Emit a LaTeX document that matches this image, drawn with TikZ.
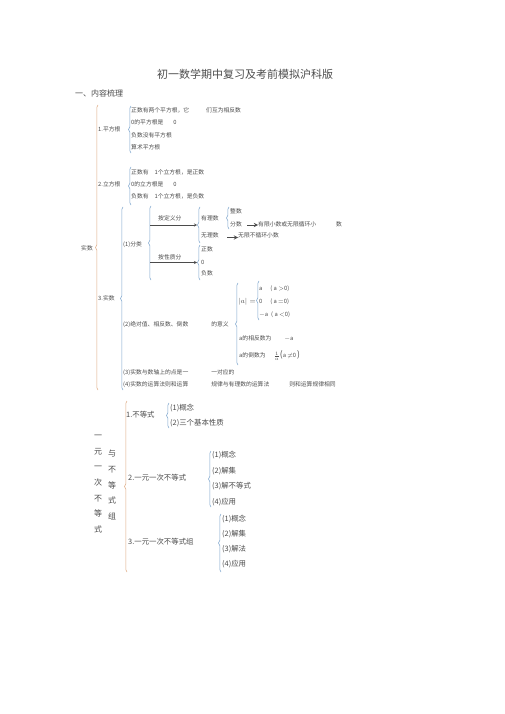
\documentclass[tikz,border=0pt]{standalone}
\usepackage{fontspec}
\newfontfamily\cjk{Noto Sans CJK SC}
\usetikzlibrary{positioning,decorations.pathreplacing}
\definecolor{inkgray}{RGB}{75,75,75}
\definecolor{braceorange}{RGB}{222,170,130}
\definecolor{braceblue}{RGB}{125,165,205}
\tikzstyle{heading} = [anchor=west, inner sep=0pt, text=inkgray, font=\cjk\fontsize{8}{9}\selectfont]
\tikzstyle{leaf} = [anchor=west, inner sep=0pt, text height=.85em, text depth=.15em, text=inkgray, font=\cjk\fontsize{5.8}{7}\selectfont]
\tikzstyle{bigleaf} = [leaf, font=\cjk\fontsize{7.4}{9}\selectfont]
\tikzstyle{vtext} = [inner sep=0pt, align=center, text=inkgray, font=\cjk\fontsize{8}{15.7}\selectfont]
\tikzstyle{lbrace} = [decorate, decoration={brace, amplitude=2.5pt}, draw=braceblue, line width=0.5pt]
\tikzstyle{bigbrace} = [lbrace, draw=braceorange]
\tikzstyle{arrow} = [thin, draw=inkgray, ->, >=stealth]
\tikzstyle{shortarrow} = [line width=0.9pt, draw=inkgray, ->, >=stealth]
\newcommand{\bigparen}[1]{{\fontsize{8.5}{9}\selectfont #1}}

\begin{document}
\begin{tikzpicture}[x=1pt, y=-1pt]
  \useasboundingbox (0,0) rectangle (505,714);
  \node (title) [inner sep=0pt, text=inkgray, font=\cjk\fontsize{11}{13}\selectfont] at (245,74) {初一数学期中复习及考前模拟沪科版};
  \node (outline) [heading] at (75,93) {一、内容梳理};

  % 实数
  \draw [bigbrace] (98,390) -- (98,105);
  \node (real) [leaf, anchor=east] at (93,247) {实数};

  % 1. 平方根
  \node (sqrt) [leaf] at (98,128) {1.平方根};
  \draw [lbrace] (131,153) -- (131,106);
  \node (sq1) [leaf] at (131,109) {正数有两个平方根，它\hspace{17pt}们互为相反数};
  \node (sq2) [leaf, below=12.5pt of sq1.west, anchor=west] {0的平方根是\hspace{10pt}0};
  \node (sq3) [leaf, below=12.5pt of sq2.west, anchor=west] {负数没有平方根};
  \node (sq4) [leaf, below=12.5pt of sq3.west, anchor=west] {算术平方根};

  % 2. 立方根
  \node (cbrt) [leaf] at (98,183) {2.立方根};
  \draw [lbrace] (131,205) -- (131,167);
  \node (cb1) [leaf] at (131,171) {正数有\hspace{6pt}1个立方根，是正数};
  \node (cb2) [leaf, below=12pt of cb1.west, anchor=west] {0的立方根是\hspace{10pt}0};
  \node (cb3) [leaf, below=12pt of cb2.west, anchor=west] {负数有\hspace{6pt}1个立方根，是负数};

  % 3. 实数
  \node (realsec) [leaf] at (98,297) {3.实数};
  \draw [lbrace] (123,390) -- (123,207);

  % (1) 分类
  \node (classify) [leaf] at (123,243) {(1)分类};
  \draw [lbrace] (151,280) -- (151,206);
  \node (bydef) [leaf] at (158,217) {按定义分};
  \node (byprop) [leaf] at (158,256) {按性质分};
  \coordinate (defFrom) at (150,225);
  \coordinate (defTo) at (197,225);
  \coordinate (propFrom) at (150,262.5);
  \coordinate (propTo) at (197,262.5);
  \draw [arrow] (defFrom) -- (defTo);
  \draw [arrow] (propFrom) -- (propTo);

  \draw [lbrace] (200,243) -- (200,207);
  \node (rational) [leaf] at (201,217) {有理数};
  \node (irrational) [leaf] at (201,234) {无理数};
  \draw [lbrace] (200,280) -- (200,245);
  \node (positive) [leaf] at (201,248) {正数};
  \node (zero) [leaf, below=12.5pt of positive.west, anchor=west] {0};
  \node (negative) [leaf, below=11.5pt of zero.west, anchor=west] {负数};

  \draw [lbrace] (229,229) -- (229,207);
  \node (integer) [leaf] at (230,210) {整数};
  \node (fraction) [leaf] at (230,223) {分数};
  \node (finite) [leaf] at (258,223) {有限小数或无限循环小\hspace{20pt}数};
  \coordinate (finFrom) at (247,225);
  \draw [shortarrow] (finFrom) -- (finFrom -| finite.west);
  \node (nonrep) [leaf] at (238,234) {无限不循环小数};
  \coordinate (nonFrom) at (227,237.5);
  \draw [shortarrow] (nonFrom) -- (nonFrom -| nonrep.west);

  % (2) 绝对值、相反数、倒数
  \node (meaning) [leaf] at (123,323) {(2)绝对值、相反数、倒数\hspace{23pt}的意义};
  \draw [lbrace] (238,365) -- (238,283);
  \node (absval) [leaf, font=\cjk\fontsize{7}{8}\selectfont] at (238,300) {$|a|=$};
  \draw [lbrace] (259,320) -- (259,281);
  \node (casepos) [leaf] at (259,287) {a\hspace{8pt}( a $>$0)};
  \node (casezero) [leaf] at (259,300) {0\hspace{8pt}( a $=$0)};
  \node (caseneg) [leaf] at (259,313) {$-$a\hspace{3pt}( a $<$0)};
  \node (opposite) [leaf] at (239,337) {a的相反数为\hspace{13pt}$-$a};
  \node (reciprocal) [leaf] at (239,354) {a的倒数为\hspace{8pt}$\frac{1}{a}$\bigparen{(}a $\neq$0\,\bigparen{)}};

  % (3) (4)
  \node (oneone) [leaf] at (123,371) {(3)实数与数轴上的点是一\hspace{23pt}一对应的};
  \node (ops) [leaf] at (123,383) {(4)实数的运算法则和运算\hspace{23pt}规律与有理数的运算法\hspace{20pt}则和运算规律相同};

  % 一元一次不等式与不等式组
  \node (vleft) [vtext] at (98,484) {一\\元\\一\\次\\不\\等\\式};
  \node (vright) [vtext] at (112,485) {与\\不\\等\\式\\组};
  \draw [bigbrace] (127,572) -- (127,401);

  \node (ineq) [bigleaf] at (126,414) {1.不等式};
  \draw [lbrace] (169,428) -- (169,403);
  \node (iq1) [bigleaf] at (170,407) {(1)概念};
  \node (iq2) [bigleaf, below=15pt of iq1.west, anchor=west] {(2)三个基本性质};

  \node (linear) [bigleaf] at (128,477) {2.一元一次不等式};
  \draw [lbrace] (211,507) -- (211,451);
  \node (ln1) [bigleaf] at (212,454) {(1)概念};
  \node (ln2) [bigleaf, below=15.5pt of ln1.west, anchor=west] {(2)解集};
  \node (ln3) [bigleaf, below=15.5pt of ln2.west, anchor=west] {(3)解不等式};
  \node (ln4) [bigleaf, below=15.5pt of ln3.west, anchor=west] {(4)应用};

  \node (system) [bigleaf] at (128,541) {3.一元一次不等式组};
  \draw [lbrace] (221,572) -- (221,514);
  \node (sy1) [bigleaf] at (222,518) {(1)概念};
  \node (sy2) [bigleaf, below=15pt of sy1.west, anchor=west] {(2)解集};
  \node (sy3) [bigleaf, below=15pt of sy2.west, anchor=west] {(3)解法};
  \node (sy4) [bigleaf, below=15pt of sy3.west, anchor=west] {(4)应用};
\end{tikzpicture}
\end{document}
